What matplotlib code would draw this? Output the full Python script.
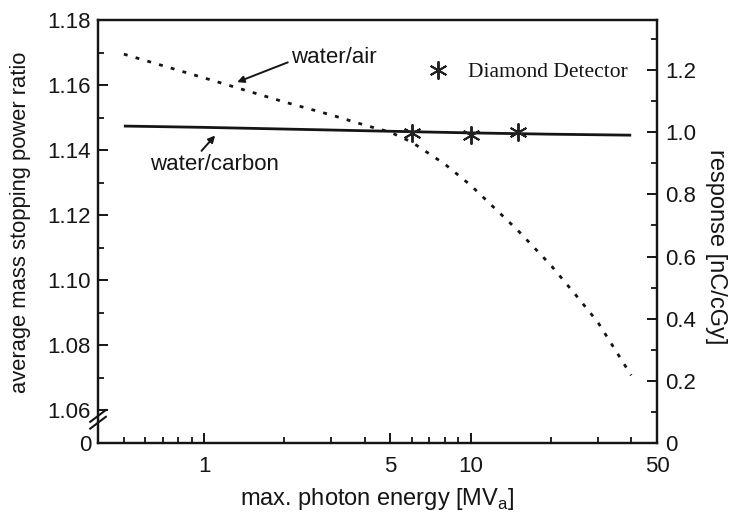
import matplotlib
matplotlib.use("Agg")
import matplotlib.pyplot as plt
from matplotlib.ticker import FixedLocator, NullFormatter, FixedFormatter

plt.rcParams['font.family'] = ['Liberation Sans', 'DejaVu Sans']
plt.rcParams['mathtext.fontset'] = 'custom'
plt.rcParams['mathtext.rm'] = 'Liberation Sans'

# Stopping power ratios vs. maximum photon energy
energy_air = [0.5, 1, 2, 3, 4, 5, 6, 8, 10, 15, 20, 25, 30, 40]
water_air = [1.1695, 1.1622, 1.1548, 1.1508, 1.1477, 1.1455, 1.1425, 1.1357,
             1.1292, 1.1154, 1.1046, 1.0951, 1.0871, 1.0708]

energy_carbon = [0.5, 1, 5, 10, 20, 40]
water_carbon = [1.1474, 1.1470, 1.1458, 1.1453, 1.1449, 1.1446]

# Diamond detector response
energy_diamond = [6, 10, 15]
response_diamond = [0.996, 0.990, 1.001]

left_ticks = [1.05, 1.06, 1.08, 1.10, 1.12, 1.14, 1.16, 1.18]
left_labels = ['0', '1.06', '1.08', '1.10', '1.12', '1.14', '1.16', '1.18']
right_ticks = [0, 0.2, 0.4, 0.6, 0.8, 1.0, 1.2]
right_labels = ['0', '0.2', '0.4', '0.6', '0.8', '1.0', '1.2']
x_ticks = [1, 5, 10, 50]
x_labels = ['1', '5', '10', '50']

INK = '#151515'

fig = plt.figure(figsize=(7.36, 5.15), dpi=100)
ax = fig.add_axes([0.1332, 0.1398, 0.7595, 0.8214])
ax2 = ax.twinx()

ax.set_xscale('log')
ax.set_xlim(0.4, 50)
ax.set_ylim(1.05, 1.18)
ax2.set_ylim(0, 1.361)

ax.plot(energy_carbon, water_carbon, color=INK, lw=2.0, solid_capstyle='butt')
ax.plot(energy_air, water_air, color=INK, lw=2.0, linestyle=(0, (1.4, 3.0)))
ax2.plot(energy_diamond, response_diamond, linestyle='none', marker=(6, 2, 0),
         markersize=13, markeredgewidth=1.4, color='#222222',
         label='Diamond Detector')

leg = ax2.legend(loc='center left', bbox_to_anchor=(0.585, 0.877), frameon=False,
                 handlelength=1.2, handletextpad=0.8, borderpad=0, borderaxespad=0,
                 prop={'family': 'Liberation Serif', 'size': 15.5})
for t in leg.get_texts():
    t.set_color(INK)

# spines and ticks
for a in (ax, ax2):
    for s in a.spines.values():
        s.set_linewidth(1.6)
        s.set_color(INK)

ax.xaxis.set_major_locator(FixedLocator(x_ticks))
ax.xaxis.set_major_formatter(FixedFormatter(x_labels))
ax.xaxis.set_minor_locator(FixedLocator(
    [0.5, 0.6, 0.7, 0.8, 0.9, 2, 3, 4, 6, 7, 8, 9, 20, 30, 40]))
ax.xaxis.set_minor_formatter(NullFormatter())

ax.yaxis.set_major_locator(FixedLocator(left_ticks))
ax.yaxis.set_major_formatter(FixedFormatter(left_labels))
ax.yaxis.set_minor_locator(FixedLocator([1.07, 1.09, 1.11, 1.13, 1.15, 1.17]))

ax2.yaxis.set_major_locator(FixedLocator(right_ticks))
ax2.yaxis.set_major_formatter(FixedFormatter(right_labels))
ax2.yaxis.set_minor_locator(FixedLocator([0.1, 0.3, 0.5, 0.7, 0.9, 1.1, 1.3]))

ax.tick_params(axis='both', which='major', direction='in', length=7, width=1.4,
               labelsize=16, colors=INK, top=False, right=False, pad=5)
ax.tick_params(axis='both', which='minor', direction='in', length=4, width=1.2,
               top=False, right=False)
ax.tick_params(axis='x', which='major', pad=9)
ax2.tick_params(axis='y', which='major', direction='in', length=7, width=1.4,
                labelsize=16, colors=INK, pad=6)
ax2.tick_params(axis='y', which='minor', direction='in', length=4, width=1.2)

ax.set_xlabel('max. photon energy [MV$_\\mathrm{a}$]', fontsize=17, labelpad=7,
              color=INK)
ax.set_ylabel('average mass stopping power ratio', fontsize=15.8, labelpad=12,
              color=INK)
ax.yaxis.label.set_y(0.522)
ax2.set_ylabel('response [nC/cGy]', fontsize=17, rotation=270, labelpad=22,
               color=INK)
ax2.yaxis.label.set_y(0.463)

# axis break on the left spine
for y0 in (0.034, 0.05):
    ax.plot([-0.014, 0.014], [y0, y0 + 0.028], transform=ax.transAxes,
            color=INK, lw=1.5, clip_on=False)

# curve labels
ax.annotate('water/air', xy=(1.33, 1.1609), xytext=(2.11, 1.1686),
            fontsize=16, va='center', ha='left', color=INK,
            arrowprops=dict(arrowstyle='-|>', color=INK, lw=1.4,
                            mutation_scale=10, relpos=(0, 0.3), shrinkA=0,
                            shrinkB=0))
ax.annotate('water/carbon', xy=(1.1, 1.1445), xytext=(0.627, 1.1357),
            fontsize=16, va='center', ha='left', color=INK,
            arrowprops=dict(arrowstyle='-|>', color=INK, lw=1.4,
                            mutation_scale=10, relpos=(0.38, 1.0), shrinkA=0,
                            shrinkB=0))

fig.savefig('out.png', dpi=100)
